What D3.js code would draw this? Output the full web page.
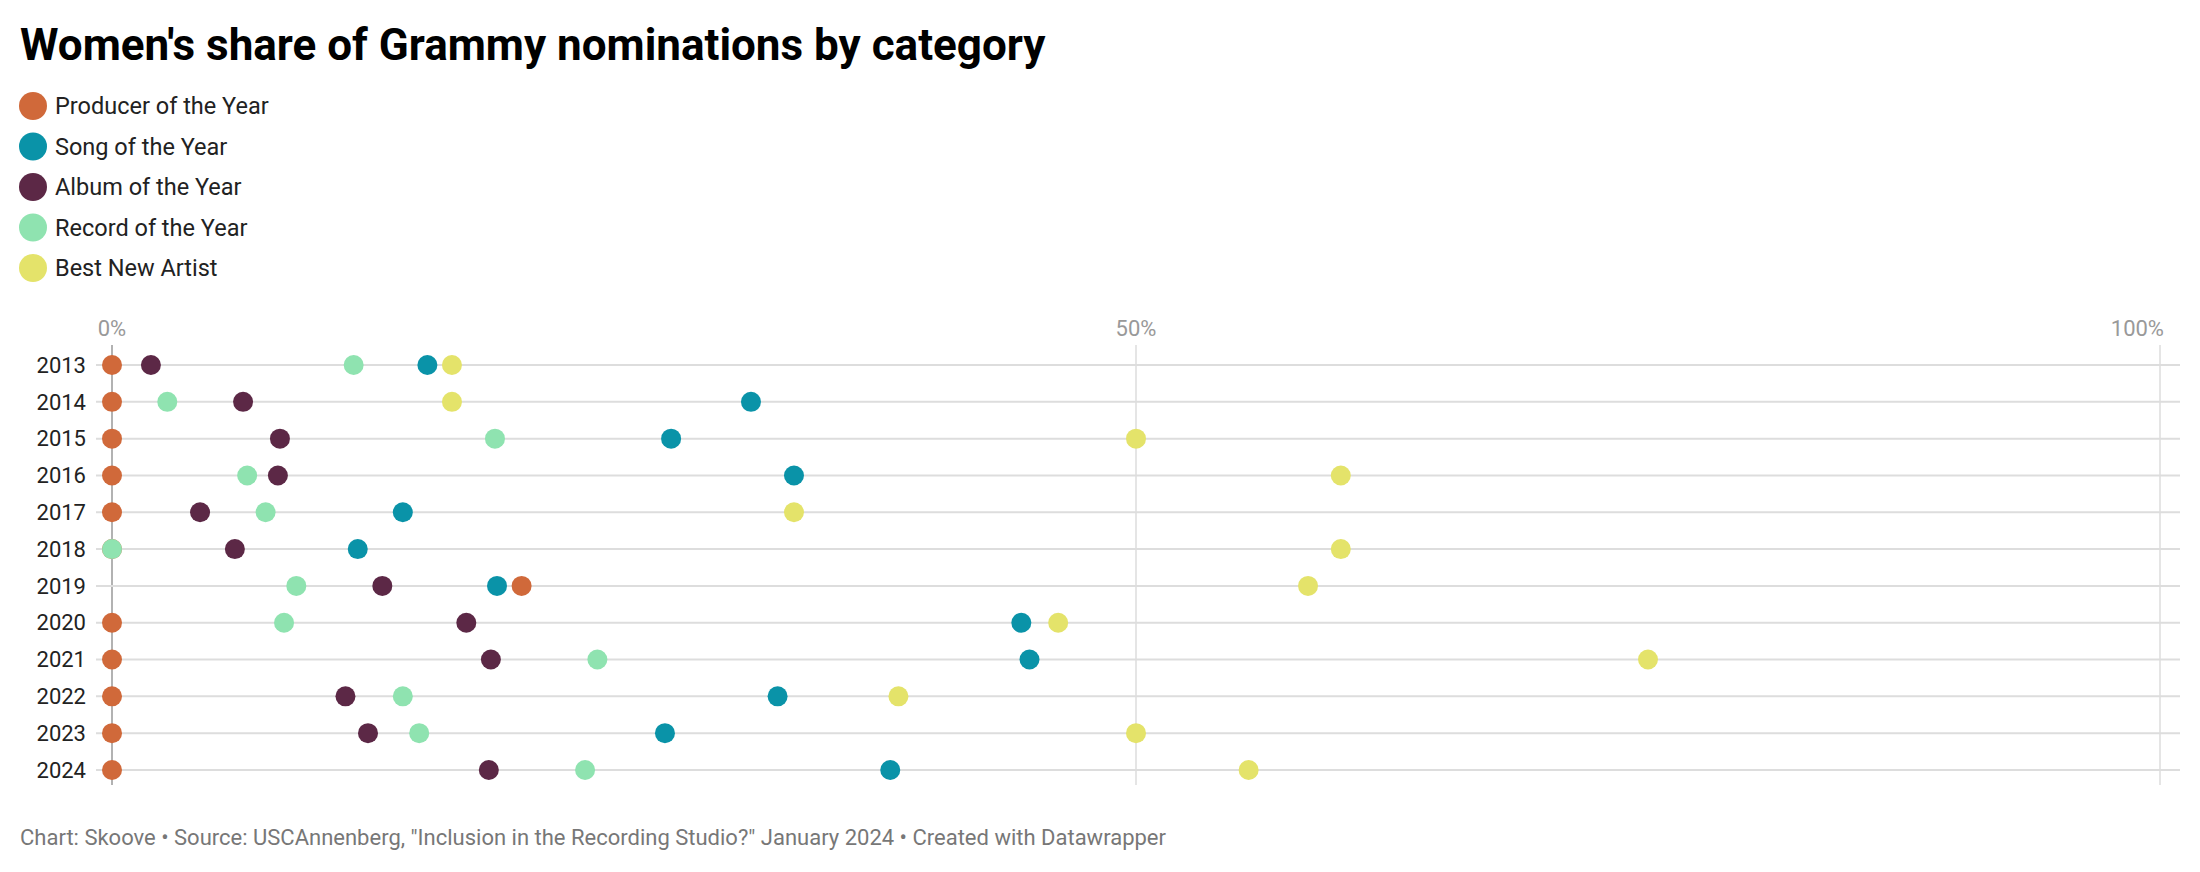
<!DOCTYPE html>
<html>
<head>
<meta charset="utf-8">
<script src="https://cdn.jsdelivr.net/npm/d3@7"></script>
<style>
  body { margin: 0; background: #fff; font-family: Roboto, sans-serif; }
</style>
</head>
<body>
<svg id="chart" width="2200" height="872"></svg>
<script>
// - - - data - - -
var years = ["2013","2014","2015","2016","2017","2018","2019","2020","2021","2022","2023","2024"];
var categories = ["Producer of the Year","Song of the Year","Album of the Year","Record of the Year","Best New Artist"];
var colors = ["#d0693a","#0a93a8","#5c2846","#8fe3b0","#e4e36a"];

var producer = [0, 0, 0, 0, 0, 0, 20, 0, 0, 0, 0, 0];
var song     = [15.4, 31.2, 27.3, 33.3, 14.2, 12.0, 18.8, 44.4, 44.8, 32.5, 27.0, 38.0];
var album    = [1.9, 6.4, 8.2, 8.1, 4.3, 6.0, 13.2, 17.3, 18.5, 11.4, 12.5, 18.4];
var record   = [11.8, 2.7, 18.7, 6.6, 7.5, 0, 9.0, 8.4, 23.7, 14.2, 15.0, 23.1];
var newArtist = [16.6, 16.6, 50, 60, 33.3, 60, 58.4, 46.2, 75, 38.4, 50, 55.5];

var xTicks = [0, 50, 100];

var series = [producer, song, album, record, newArtist];

var svg = d3.select("#chart");

// title
svg.append("text")
  .attr("x", 20).attr("y", 60)
  .style("font-size", "44px").style("font-weight", 700)
  .text("Women's share of Grammy nominations by category");

// legend
var legend = svg.selectAll("g.legend")
  .data(categories)
  .enter().append("g")
    .attr("class", "legend")
    .attr("transform", function(d, i) { return "translate(33," + (106 + i * 40.5) + ")"; });
legend.append("circle").attr("r", 14).attr("fill", function(d, i) { return colors[i]; });
legend.append("text")
  .attr("x", 22).attr("dy", "0.35em")
  .style("font-size", "23.5px").attr("fill", "#222")
  .text(function(d) { return d; });

// scales
var x = d3.scaleLinear().domain([0, 100]).range([112, 2160]);
var y = d3.scalePoint().domain(years).range([365, 770]);

// vertical grid
svg.selectAll("line.vgrid")
  .data(xTicks)
  .enter().append("line")
    .attr("x1", function(d) { return x(d); }).attr("x2", function(d) { return x(d); })
    .attr("y1", 345).attr("y2", 785)
    .attr("stroke", function(d) { return d === 0 ? "#999" : "#ddd"; })
    .attr("stroke-width", 1.5);

svg.selectAll("text.xtick")
  .data(xTicks)
  .enter().append("text")
    .attr("x", function(d) { return d === 100 ? x(d) + 4 : x(d); }).attr("y", 336)
    .attr("text-anchor", function(d) { return d === 100 ? "end" : "middle"; })
    .style("font-size", "22px").attr("fill", "#999")
    .text(function(d) { return d + "%"; });

// horizontal grid
svg.selectAll("line.hgrid")
  .data(years)
  .enter().append("line")
    .attr("x1", 96).attr("x2", 2180)
    .attr("y1", function(d) { return y(d); }).attr("y2", function(d) { return y(d); })
    .attr("stroke", "#ddd").attr("stroke-width", 2);

svg.selectAll("text.year")
  .data(years)
  .enter().append("text")
    .attr("x", 86).attr("y", function(d) { return y(d); })
    .attr("dy", "0.35em").attr("text-anchor", "end")
    .style("font-size", "22px").attr("fill", "#222")
    .text(function(d) { return d; });

// dots
series.forEach(function(vals, s) {
  svg.append("g").selectAll("circle")
    .data(vals)
    .enter().append("circle")
      .attr("cx", function(d) { return x(d); })
      .attr("cy", function(d, i) { return y(years[i]); })
      .attr("r", 10)
      .attr("fill", colors[s]);
});

// footer
svg.append("text")
  .attr("x", 20).attr("y", 845)
  .style("font-size", "22px").attr("fill", "#777")
  .text("Chart: Skoove \u2022 Source: USCAnnenberg, \"Inclusion in the Recording Studio?\" January 2024 \u2022 Created with Datawrapper");
</script>
</body>
</html>
